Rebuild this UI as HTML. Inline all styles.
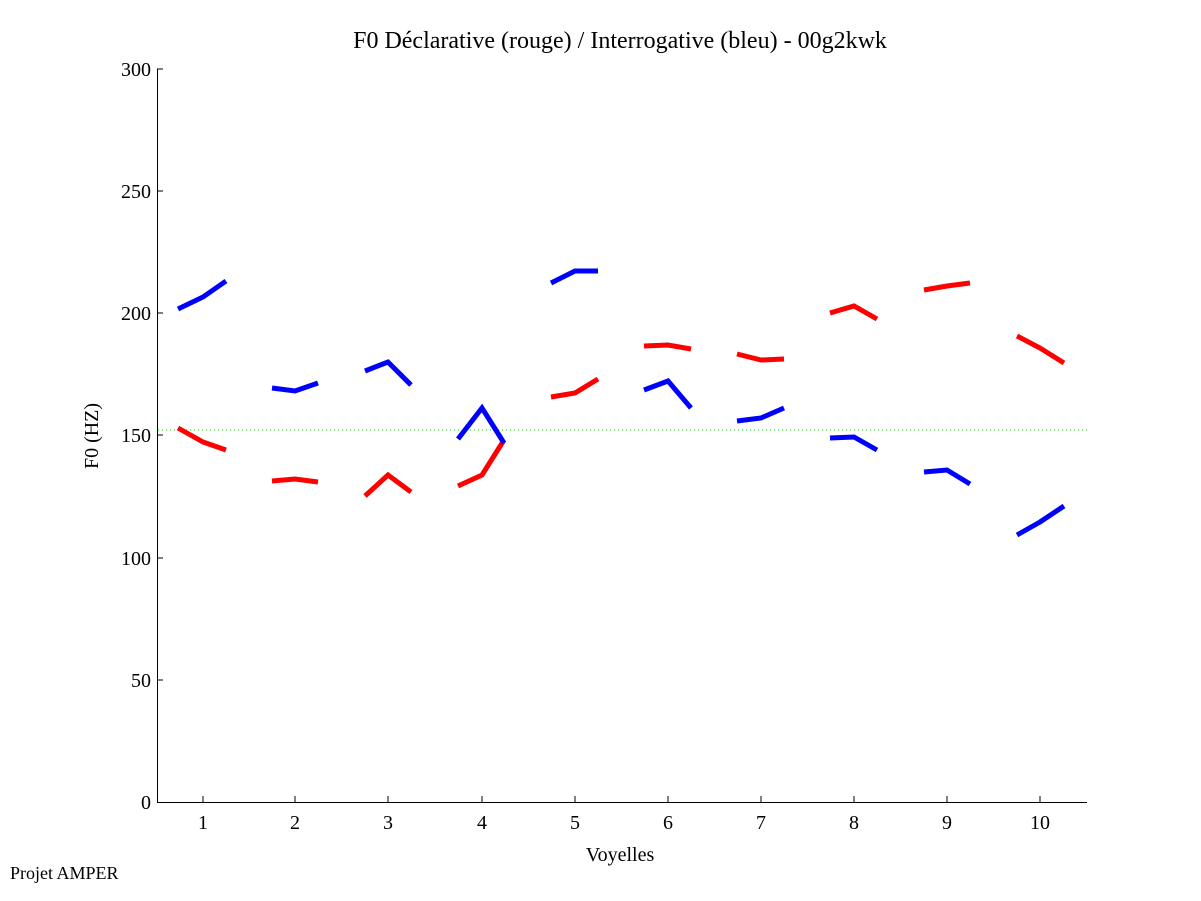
<!DOCTYPE html>
<html><head><meta charset="utf-8"><style>body{margin:0;background:#fff}svg{display:block}text{font-family:"Liberation Serif",serif;fill:#000}</style></head><body>
<svg width="1201" height="901" viewBox="0 0 1201 901">
<rect width="1201" height="901" fill="#fff"/>
<text x="620" y="48" font-size="24" text-anchor="middle">F0 Déclarative (rouge) / Interrogative (bleu) - 00g2kwk</text>
<g stroke="#000" stroke-width="1" fill="none">
<path d="M157.5 69V802.5H1087"/>
<path d="M157 69h6M157 191h6M157 313h6M157 435h6M157 558h6M157 680h6"/>
<path d="M203 802v-6M295 802v-6M388 802v-6M482 802v-6M575 802v-6M668 802v-6M761 802v-6M854 802v-6M947 802v-6M1040 802v-6"/>
</g>
<g font-size="20" text-anchor="end">
<text x="151" y="76">300</text><text x="151" y="198">250</text><text x="151" y="320">200</text><text x="151" y="442">150</text><text x="151" y="565">100</text><text x="151" y="687">50</text><text x="151" y="809">0</text>
</g>
<g font-size="20" text-anchor="middle">
<text x="203" y="829">1</text><text x="295" y="829">2</text><text x="388" y="829">3</text><text x="482" y="829">4</text><text x="575" y="829">5</text><text x="668" y="829">6</text><text x="761" y="829">7</text><text x="854" y="829">8</text><text x="947" y="829">9</text><text x="1040" y="829">10</text>
<text x="620" y="861">Voyelles</text>
<text x="0" y="0" transform="translate(98,436) rotate(-90)">F0 (HZ)</text>
</g>
<text x="10" y="879" font-size="18">Projet AMPER</text>
<line x1="158" y1="430" x2="1087" y2="430" stroke="#00cc00" stroke-width="1" stroke-dasharray="1,3"/>
<g fill="none" stroke="#ff0000" stroke-width="5">
<polyline points="178,428 203,442 226,450"/>
<polyline points="272,481 295,479 318,482"/>
<polyline points="365,496 388,475 411,492"/>
<polyline points="458,486 482,475 504,440"/>
<polyline points="551,397 575,393 598,379"/>
<polyline points="644,346 668,345 691,349"/>
<polyline points="737,354 761,360 784,359"/>
<polyline points="830,313 854,306 877,319"/>
<polyline points="924,290 947,286 970,283"/>
<polyline points="1017,336 1040,348 1064,363"/>
</g>
<g fill="none" stroke="#0000ff" stroke-width="5">
<polyline points="178,309 203,297 226,281"/>
<polyline points="272,388 295,391 318,383"/>
<polyline points="365,371 388,362 411,385"/>
<polyline points="458,439 482,408 504,443"/>
<polyline points="551,283 575,271 598,271"/>
<polyline points="644,390 668,381 691,408"/>
<polyline points="737,421 761,418 784,408"/>
<polyline points="830,438 854,437 877,450"/>
<polyline points="924,472 947,470 970,484"/>
<polyline points="1017,535 1040,522 1064,506"/>
</g>
</svg>
</body></html>
